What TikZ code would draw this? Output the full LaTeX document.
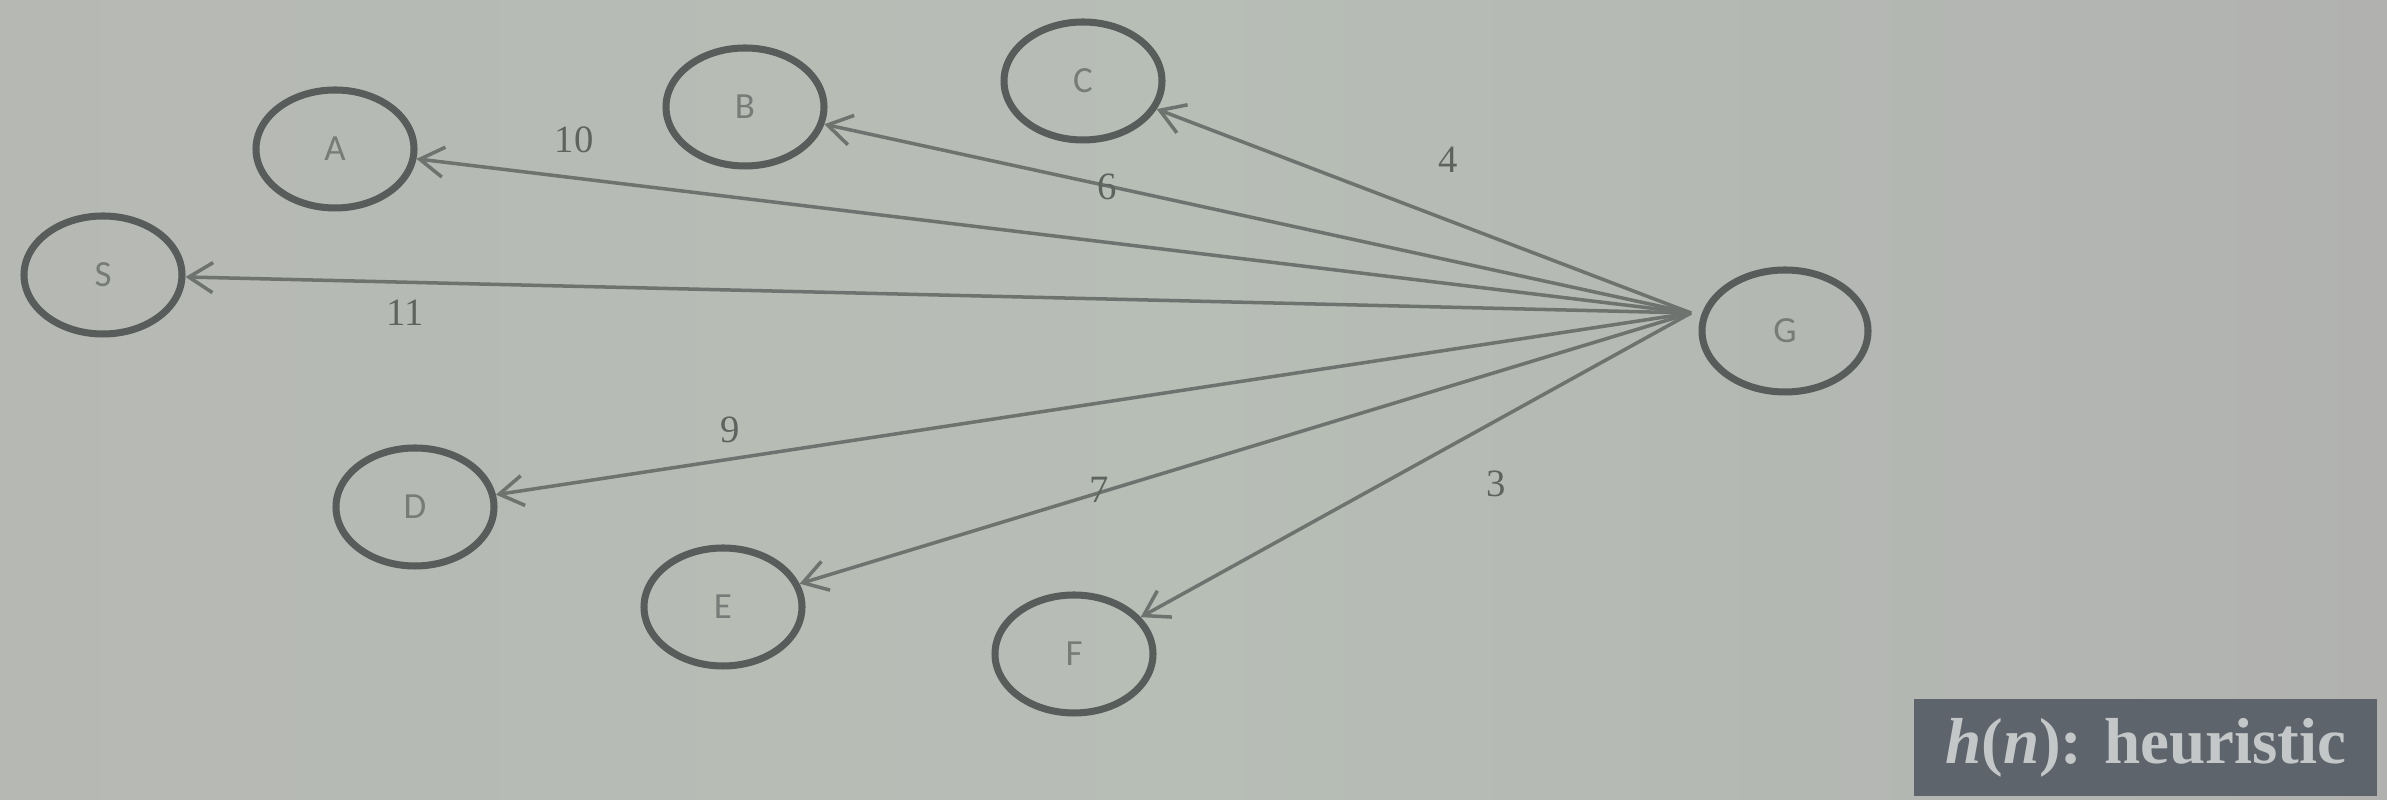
\documentclass[tikz,border=0pt]{standalone}
\usepackage{fontspec}
\setmainfont{Liberation Serif}
\newfontfamily\statefont{Carlito}
\usetikzlibrary{positioning,shapes.geometric,arrows.meta}
\definecolor{slideL}  {HTML}{B6B8B4}
\definecolor{slideM}  {HTML}{B7BEB6}
\definecolor{slideR}  {HTML}{B1B2B0}
\definecolor{ring}    {HTML}{585C5A}
\definecolor{edgeink} {HTML}{6E736F}
\definecolor{letter}  {HTML}{777C78}
\definecolor{digit}   {HTML}{5E635F}
\definecolor{tagfill} {HTML}{5E646C}
\definecolor{tagtext} {HTML}{C3C7C8}
\tikzset{
  >={Straight Barb[length=2.4mm,width=3mm]},
  % --- nodes
  st/.style  = {ellipse, draw=ring, line width=2pt, minimum width=15.8mm,
                minimum height=11.8mm, inner sep=0pt, text=letter,
                font=\statefont\fontsize{10.5}{11}\selectfont},
  w/.style   = {font=\fontsize{11}{12}\selectfont, text=digit, inner sep=1pt},
  tag/.style = {fill=tagfill, text=tagtext, minimum width=46.3mm,
                minimum height=9.7mm, inner sep=0pt,
                font=\bfseries\fontsize{18.5}{22}\selectfont},
  % --- edges
  e/.style   = {->, draw=edgeink, line width=1pt},
}
\begin{document}
\begin{tikzpicture}
  \shade[left color=slideL, right color=slideR, middle color=slideM]
    (0,0) rectangle (23.87,8);
  \useasboundingbox (0,0) rectangle (23.87,8);

  \node[st] (S) at (1.03,5.25) {S};
  \node[st] (A) at (3.35,6.51) {A};
  \node[st] (B) at (7.45,6.93) {B};
  \node[st] (C) at (10.83,7.19) {C};
  \node[st] (D) at (4.15,2.93) {D};
  \node[st] (E) at (7.23,1.93) {E};
  \node[st] (F) at (10.74,1.46) {F};
  \node[st, minimum width=16.6mm, minimum height=12.2mm] (G) at (17.85,4.69) {G};
  \coordinate (hub) at (16.91,4.87);

  \draw[e] (hub)--(C); \draw[e] (hub)--(B); \draw[e] (hub)--(A);
  \draw[e] (hub)--(S); \draw[e] (hub)--(D); \draw[e] (hub)--(E);
  \draw[e] (hub)--(F);

  \node[w] (hS) at (4.05,4.87) {11};
  \node[w] (hA) at (5.74,6.60) {10};
  \node[w] (hB) at (11.07,6.13) {6};
  \node[w] (hC) at (14.48,6.40) {4};
  \node[w] (hD) at (7.30,3.70) {9};
  \node[w] (hE) at (10.99,3.10) {7};
  \node[w] (hF) at (14.96,3.16) {3};

  \node[tag, anchor=south east] (key) at (23.78,0.03)
    {\textit{h}(\textit{n}): heuristic};
\end{tikzpicture}
\end{document}
